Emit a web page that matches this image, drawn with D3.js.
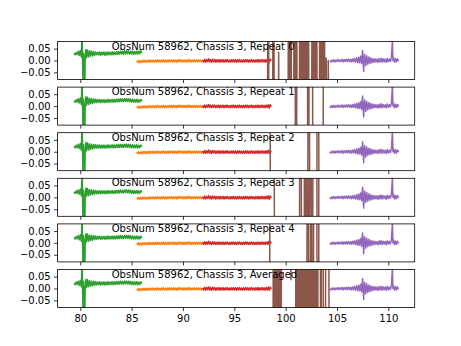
<!DOCTYPE html>
<html><head><meta charset="utf-8">
<script src="https://cdn.jsdelivr.net/npm/d3@7"></script>
<style>body{margin:0;background:#fff} svg{display:block} text{font-family:"DejaVu Sans";font-size:10px;fill:#000}</style>
</head><body><svg id="c" width="461" height="346"></svg>
<script>
const titles = ["ObsNum 58962, Chassis 3, Repeat 0","ObsNum 58962, Chassis 3, Repeat 1","ObsNum 58962, Chassis 3, Repeat 2","ObsNum 58962, Chassis 3, Repeat 3","ObsNum 58962, Chassis 3, Repeat 4","ObsNum 58962, Chassis 3, Averaged"];
const xTicks = [80,85,90,95,100,105,110];
const yTicks = [0.05,0,-0.05];

const greenA = [[79.4,0.031],[79.5,0.024],[79.6,0.034],[79.7,0.025],[79.8,0.039],[79.9,0.021],[80.0,0.042],[80.1,0.015],[80.18,0.12],[80.22,0.0],[80.27,-0.12],[80.32,0.03],[80.36,-0.12],[80.4,0.0],[80.44,-0.12],[80.48,0.02],[80.55,0.046],[80.6,0.012],[80.7,0.044],[80.8,0.015],[80.9,0.041],[81.0,0.018],[81.1,0.039],[81.2,0.020],[81.3,0.038],[81.4,0.022],[81.5,0.036],[81.6,0.024],[81.7,0.035],[81.8,0.023],[81.9,0.036],[82.0,0.022],[82.1,0.035],[82.2,0.024],[82.3,0.036],[82.4,0.022],[82.5,0.035],[82.6,0.023],[82.7,0.036],[82.8,0.024],[82.9,0.035],[83.0,0.024],[83.1,0.037],[83.2,0.024],[83.3,0.036],[83.4,0.025],[83.5,0.037],[83.6,0.026],[83.7,0.038],[83.8,0.026],[83.9,0.039],[84.0,0.027],[84.1,0.039],[84.2,0.026],[84.3,0.041],[84.4,0.027],[84.5,0.042],[84.6,0.028],[84.7,0.040],[84.8,0.027],[84.9,0.039],[85.0,0.027],[85.1,0.039],[85.2,0.026],[85.3,0.038],[85.4,0.027],[85.5,0.039],[85.6,0.027],[85.7,0.040],[85.8,0.028],[85.9,0.041],[86.0,0.033]];
const greenB = [[79.4,0.023],[79.5,0.016],[79.6,0.027],[79.7,0.017],[79.8,0.031],[79.9,0.013],[80.0,0.034],[80.1,0.007],[80.18,0.12],[80.22,0.0],[80.27,-0.12],[80.32,0.03],[80.36,-0.12],[80.4,0.0],[80.44,-0.12],[80.48,0.01],[80.55,0.039],[80.6,0.004],[80.7,0.037],[80.8,0.007],[80.9,0.033],[81.0,0.010],[81.1,0.031],[81.2,0.012],[81.3,0.030],[81.4,0.014],[81.5,0.029],[81.6,0.015],[81.7,0.028],[81.8,0.016],[81.9,0.028],[82.0,0.015],[82.1,0.027],[82.2,0.016],[82.3,0.028],[82.4,0.015],[82.5,0.027],[82.6,0.016],[82.7,0.029],[82.8,0.016],[82.9,0.027],[83.0,0.017],[83.1,0.029],[83.2,0.016],[83.3,0.028],[83.4,0.017],[83.5,0.029],[83.6,0.018],[83.7,0.030],[83.8,0.018],[83.9,0.031],[84.0,0.019],[84.1,0.030],[84.2,0.018],[84.3,0.031],[84.4,0.020],[84.5,0.032],[84.6,0.019],[84.7,0.031],[84.8,0.018],[84.9,0.030],[85.0,0.017],[85.1,0.029],[85.2,0.016],[85.3,0.028],[85.4,0.017],[85.5,0.029],[85.6,0.016],[85.7,0.027],[85.8,0.017],[85.9,0.028],[86.0,0.021]];
const orange = [[85.5,-0.001],[85.6,-0.008],[85.7,0.000],[85.8,-0.009],[85.9,-0.001],[86.0,-0.008],[86.1,0.001],[86.2,-0.007],[86.3,0.001],[86.4,-0.008],[86.5,0.000],[86.6,-0.007],[86.7,0.002],[86.8,-0.007],[86.9,0.001],[87.0,-0.006],[87.1,0.002],[87.2,-0.007],[87.3,0.001],[87.4,-0.006],[87.5,0.003],[87.6,-0.006],[87.7,0.001],[87.8,-0.007],[87.9,0.002],[88.0,-0.006],[88.1,0.003],[88.2,-0.006],[88.3,0.001],[88.4,-0.007],[88.5,0.002],[88.6,-0.006],[88.7,0.003],[88.8,-0.005],[88.9,0.002],[89.0,-0.006],[89.1,0.003],[89.2,-0.006],[89.3,0.002],[89.4,-0.007],[89.5,0.003],[89.6,-0.005],[89.7,0.004],[89.8,-0.005],[89.9,0.002],[90.0,-0.006],[90.1,0.003],[90.2,-0.006],[90.3,0.002],[90.4,-0.006],[90.5,0.004],[90.6,-0.005],[90.7,0.003],[90.8,-0.006],[90.9,0.002],[91.0,-0.006],[91.1,0.003],[91.2,-0.005],[91.3,0.002],[91.4,-0.006],[91.5,0.003],[91.6,-0.005],[91.7,0.002],[91.8,-0.006],[91.9,0.002]];
const red = [[91.9,0.002],[92.0,-0.006],[92.1,0.005],[92.2,-0.007],[92.3,0.004],[92.4,-0.005],[92.5,0.007],[92.6,-0.006],[92.7,0.004],[92.8,-0.007],[92.9,0.005],[93.0,-0.005],[93.1,0.004],[93.2,-0.007],[93.3,0.003],[93.4,-0.006],[93.5,0.004],[93.6,-0.007],[93.7,0.003],[93.8,-0.006],[93.9,0.004],[94.0,-0.007],[94.1,0.003],[94.2,-0.006],[94.3,0.004],[94.4,-0.006],[94.5,0.002],[94.6,-0.007],[94.7,0.003],[94.8,-0.006],[94.9,0.004],[95.0,-0.006],[95.1,0.003],[95.2,-0.007],[95.3,0.003],[95.4,-0.006],[95.5,0.004],[95.6,-0.006],[95.7,0.002],[95.8,-0.007],[95.9,0.003],[96.0,-0.006],[96.1,0.004],[96.2,-0.006],[96.3,0.003],[96.4,-0.007],[96.5,0.003],[96.6,-0.006],[96.7,0.004],[96.8,-0.006],[96.9,0.002],[97.0,-0.007],[97.1,0.003],[97.2,-0.006],[97.3,0.004],[97.4,-0.007],[97.5,0.003],[97.6,-0.006],[97.7,0.004],[97.8,-0.006],[97.9,0.003],[98.0,-0.007],[98.1,0.004],[98.2,-0.006],[98.3,0.006],[98.4,-0.008],[98.5,0.006],[98.6,-0.002]];
const purple = [[104.3,-0.001],[104.4,-0.006],[104.5,0.002],[104.6,-0.005],[104.7,0.003],[104.8,-0.006],[104.9,0.002],[105.0,-0.004],[105.1,0.004],[105.2,-0.005],[105.3,0.003],[105.4,-0.004],[105.5,0.005],[105.6,-0.006],[105.7,0.004],[105.8,-0.004],[105.9,0.005],[106.0,-0.005],[106.1,0.006],[106.2,-0.004],[106.3,0.005],[106.4,-0.006],[106.5,0.007],[106.6,-0.005],[106.7,0.008],[106.8,-0.007],[106.9,0.011],[107.0,-0.009],[107.1,0.014],[107.2,-0.010],[107.3,0.018],[107.4,-0.014],[107.45,0.022],[107.5,0.042],[107.55,-0.008],[107.6,-0.046],[107.65,0.010],[107.7,0.026],[107.8,-0.022],[107.9,0.020],[108.0,-0.016],[108.1,0.015],[108.2,-0.012],[108.3,0.011],[108.4,-0.010],[108.5,0.008],[108.6,-0.007],[108.7,0.007],[108.8,-0.006],[108.9,0.006],[109.0,-0.008],[109.1,0.008],[109.2,-0.006],[109.3,0.010],[109.4,-0.007],[109.5,0.007],[109.6,-0.005],[109.7,0.006],[109.8,-0.008],[109.9,0.009],[110.0,-0.005],[110.1,0.006],[110.2,-0.004],[110.3,0.012],[110.4,0.085],[110.45,0.000],[110.5,0.013],[110.6,-0.007],[110.7,0.008],[110.8,-0.006],[110.9,0.007],[111.0,-0.002]];

const brown0 = [[98.2,-1],[98.3,1],[98.4,-1],[98.7,-1],[98.8,1],[98.95,-1],[99.25,-1],[99.32,0.035],[99.4,-1],[100.2,-1],[100.3,1],[100.4,-1],[100.5,1],[100.6,-1],[100.75,-1],[100.85,1],[100.95,-1],[101.05,1],[101.15,-1],[101.3,-1],[101.4,1],[101.5,-1],[101.6,1],[101.7,-1],[101.8,1],[101.9,-1],[102.0,1],[102.1,-1],[102.2,1],[102.3,-1],[102.5,-1],[102.6,1],[102.7,-1],[102.8,1],[102.9,-1],[103.0,1],[103.1,-1],[103.25,-1],[103.35,1],[103.45,-1],[103.55,1],[103.65,-1],[103.75,1],[103.85,-1],[103.95,0.01],[104.05,-1],[104.15,0.0],[104.3,-1]];
const brown1 = [[98.5,1],[100.9,1],[100.98,-1],[101.04,-1],[101.12,1],[102.1,1],[102.18,-1],[102.23,-1],[102.31,1],[102.59,1],[102.67,-1],[103.62,-1],[103.7,1],[104.3,1]];
const brown2 = [[98.45,1],[98.55,-1],[102.13,-1],[102.21,1],[102.29,1],[102.37,-1],[103.01,-1],[103.09,1],[103.19,1],[103.27,-1],[104.3,-1]];
const brown3 = [[98.85,1],[98.95,-1],[101.32,-1],[101.4,1],[101.49,1],[101.57,-1],[101.78,-1],[101.86,1],[101.91,1],[101.99,-1],[102.06,-1],[102.14,1],[102.16,1],[102.24,-1],[102.31,-1],[102.39,1],[102.46,1],[102.54,-1],[102.61,-1],[102.69,1],[103.01,1],[103.09,-1],[103.19,-1],[103.27,1],[104.3,1]];
const brown4 = [[98.4,1],[98.5,-1],[102.04,-1],[102.12,1],[102.19,1],[102.27,-1],[102.38,-1],[102.46,1],[102.52,1],[102.6,-1],[102.68,-1],[102.76,1],[103.01,1],[103.09,-1],[103.19,-1],[103.27,1],[104.3,1]];
const brown5 = [[98.75,-1],[98.82,1],[98.9,-1],[98.98,1],[99.06,-1],[99.14,1],[99.22,-1],[99.3,1],[99.38,-1],[99.46,1],[99.54,-1],[99.62,1],[100.4,1],[100.52,0.037],[100.64,1],[100.95,1],[101.02,-1],[101.1,1],[101.18,-1],[101.26,1],[101.34,-1],[101.42,1],[101.5,-1],[101.58,1],[101.66,-1],[101.74,1],[101.82,-1],[101.9,1],[101.98,-1],[102.06,1],[102.14,-1],[102.22,1],[102.3,-1],[102.38,1],[102.46,-1],[102.54,1],[102.62,-1],[102.7,1],[102.78,-1],[102.86,1],[102.94,-1],[103.02,1],[103.1,-1],[103.18,1],[103.35,1],[103.43,-1],[103.51,1],[103.62,1],[103.7,-1],[103.85,-1],[103.93,1],[104.18,1],[104.26,-1],[104.3,-1]];
const browns = [brown0,brown1,brown2,brown3,brown4,brown5];

const C = {orange:"#ff7f0e", green:"#2ca02c", red:"#d62728", purple:"#9467bd", brown:"#8c564b"};

const svg = d3.select("#c");
const L = 57.6, R = 414.7, T = 41.5, AH = 38.0, GAP = 7.6;
const x = d3.scaleLinear().domain([77.79, 112.57]).range([L, R]);

titles.forEach((title, i) => {
  const top = T + i * (AH + GAP), bot = top + AH;
  const y = d3.scaleLinear().domain([-0.08, 0.08]).range([bot, top]);
  const g = svg.append("g");
  const cid = "clip" + i;
  svg.append("clipPath").attr("id", cid).append("rect").attr("x", L).attr("y", top).attr("width", R - L).attr("height", AH);
  const line = d3.line().x(d => x(d[0])).y(d => y(d[1]));
  const lg = g.append("g").attr("clip-path", `url(#${cid})`);
  const series = [[orange, C.orange], [i === 0 ? greenA : greenB, C.green], [red, C.red], [purple, C.purple], [browns[i], C.brown]];
  series.forEach(([data, col]) => {
    lg.append("path").attr("d", line(data)).attr("fill", "none").attr("stroke", col)
      .attr("stroke-width", 1.5).attr("stroke-linejoin", "round").attr("stroke-linecap", "butt");
  });
  const xa = g.append("g").attr("transform", `translate(0,${bot})`)
    .call(d3.axisBottom(x).tickValues(xTicks).tickSizeInner(3.5).tickSizeOuter(0).tickPadding(3.5).tickFormat(i === 5 ? d3.format("d") : ""));
  const ya = g.append("g").attr("transform", `translate(${L},0)`)
    .call(d3.axisLeft(y).tickValues(yTicks).tickSizeInner(3.5).tickSizeOuter(0).tickPadding(3.5).tickFormat(d3.format(".2f")));
  [xa, ya].forEach(a => {
    a.select(".domain").remove();
    a.selectAll(".tick line").attr("stroke", "#000").attr("stroke-width", 0.8);
    a.selectAll("text").attr("font-family", "DejaVu Sans").attr("font-size", 10).attr("fill", "#000");
  });
  g.append("rect").attr("x", L).attr("y", top).attr("width", R - L).attr("height", AH)
    .attr("fill", "none").attr("stroke", "#000").attr("stroke-width", 0.8);
  g.append("text").attr("x", x(83.06)).attr("y", top + 8).text(title);
});
</script></body></html>
